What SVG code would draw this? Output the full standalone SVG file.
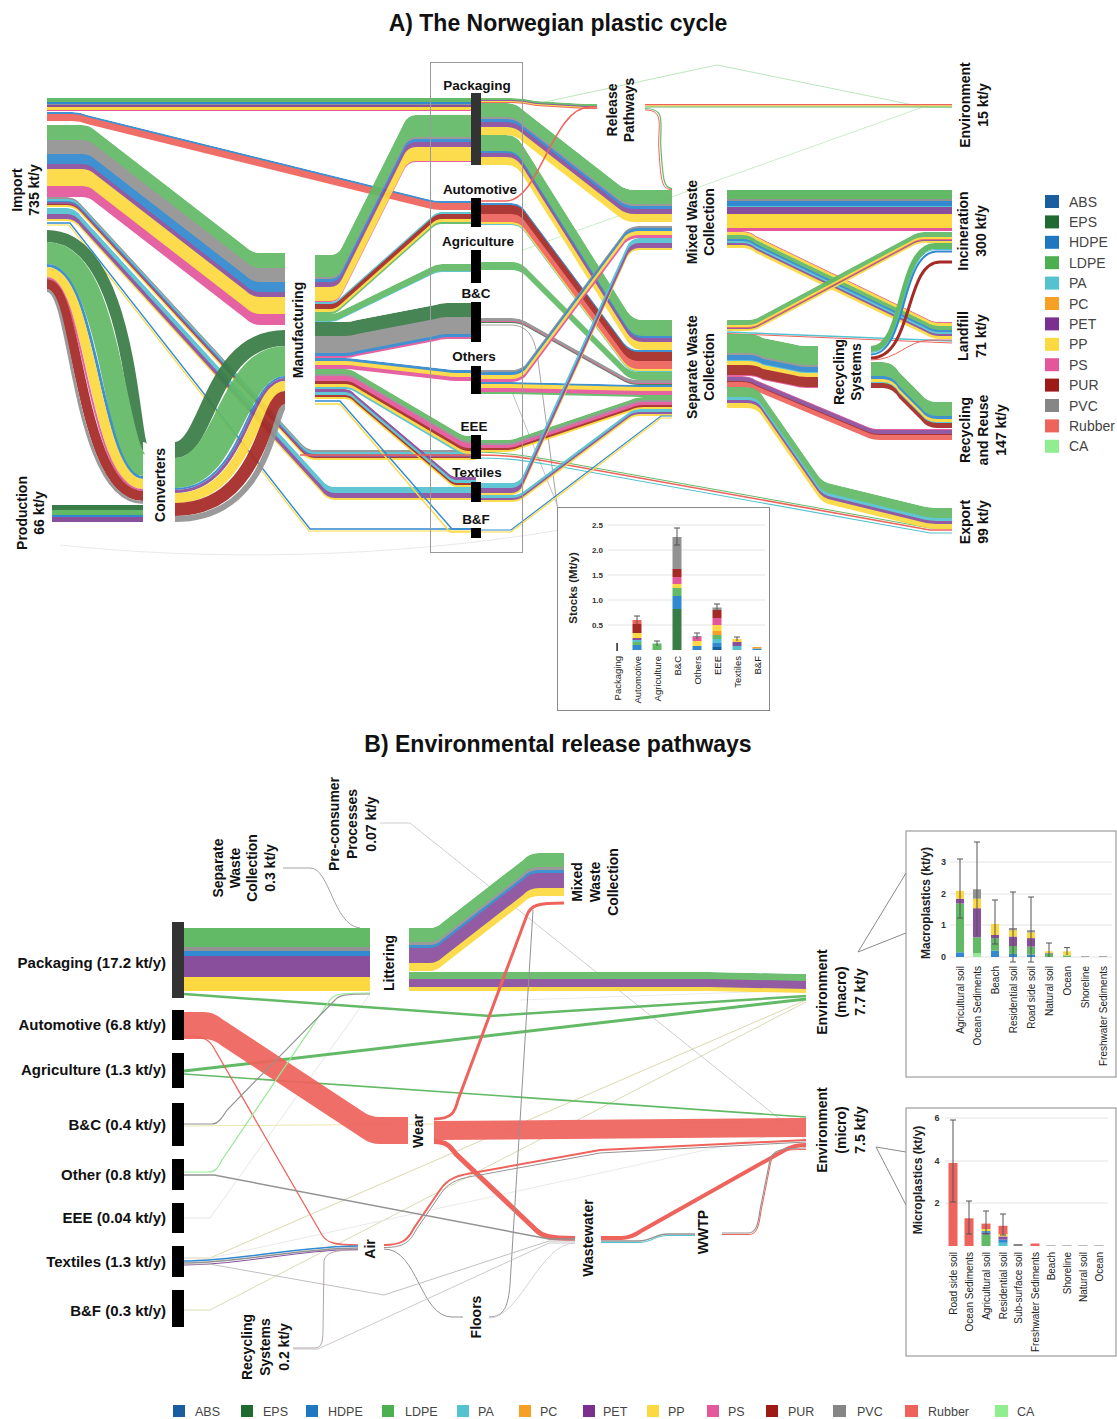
<svg xmlns="http://www.w3.org/2000/svg" width="1117" height="1419" viewBox="0 0 1117 1419">
<defs>
<style>
text{font-family:"Liberation Sans",Arial,"DejaVu Sans",sans-serif}
.h{font-weight:bold;fill:#111;font-size:23px;text-anchor:middle}
.n{font-size:14px;font-weight:bold;fill:#111;text-anchor:middle}
.sec{font-size:13.5px;font-weight:bold;fill:#111;text-anchor:middle}
.lb{font-size:15px;font-weight:bold;fill:#111;text-anchor:end}
.lg{font-size:14px;fill:#444}
.lg2{font-size:12.5px;fill:#444}
.ax{font-size:8px;fill:#333;font-weight:bold}
.ax2{font-size:9px;fill:#333;font-weight:bold}
.cat{font-size:9.5px;fill:#222;text-anchor:end}
.cat2{font-size:10px;fill:#222;text-anchor:end}
.yl{font-weight:bold;fill:#222;text-anchor:middle}
.f{fill:var(--c)}
.s{fill:none;stroke:var(--c)}
.bd{opacity:.93}
.grid{stroke:#e3e3e3;stroke-width:1;fill:none}
.err{stroke:#555;stroke-width:1;fill:none}
.fa{fill:none;stroke-width:.9}
.box{fill:#fff;stroke:#8a8a8a;stroke-width:1}
.abs{--c:#1b5e9f}.eps{--c:#3a7c47}.hdpe{--c:#3189cf}.ldpe{--c:#62ba66}.pa{--c:#55c2d0}.pc{--c:#f6a126}.pet{--c:#8a4f9c}.pp{--c:#fcd940}.ps{--c:#e4589b}.pur{--c:#a52a26}.pvc{--c:#939393}.rub{--c:#ee635c}.ca{--c:#95ea95}
</style>
<path id="bF2" d="M47,112 h25 q8,0 15,3 l340,84 q7,2 15,2 h34 v9 h-34 q-8,0 -15,-2 l-340,-84 q-7,-3 -15,-3 h-25 z"/>
<path id="bF3" d="M47,125 h35 q8,0 14,6 l150,116 q6,6 14,6 h25 v72 h-25 q-8,0 -14,-6 l-150,-116 q-6,-6 -14,-6 h-35 z"/>
<path id="bF4" d="M47,197 h20 q8,0 14,7 l220,239 q6,7 14,7 h161 v10 h-161 q-8,0 -14,-7 l-220,-239 q-6,-7 -14,-7 h-20 z"/>
<path id="bF5" d="M47,208 h20 q8,0 14,8 l240,263 q6,8 14,8 h141 v13 h-141 q-8,0 -14,-8 l-240,-263 q-6,-8 -14,-8 h-20 z"/>
<path id="bM1" d="M315,255 h15 q8,0 12,-8 l62,-124 q4,-8 12,-8 h60 v47 h-60 q-8,0 -12,8 l-62,124 q-4,8 -12,8 h-15 z"/>
<path id="bM2" d="M315,302 h15 q6,0 11,-5 l90,-80 q5,-5 11,-5 h34 v12 h-34 q-6,0 -11,5 l-90,80 q-5,5 -11,5 h-15 z"/>
<path id="bM3" d="M315,314 h15 q6,0 11,-3 l90,-44 q5,-3 11,-3 h34 v8 h-34 q-6,0 -11,3 l-90,44 q-5,3 -11,3 h-15 z"/>
<path id="bM4" d="M315,322 h30 q6,0 12,-2 l78,-15 q6,-2 12,-2 h29 v36 h-29 q-6,0 -12,2 l-78,15 q-6,2 -12,2 h-30 z"/>
<path id="bM5" d="M315,358 h30 q6,0 12,1 l88,10 q6,1 12,1 h19 v11 h-19 q-6,0 -12,-1 l-88,-10 q-6,-1 -12,-1 h-30 z"/>
<path id="bM6" d="M315,369 h30 q6,0 12,4 l100,59 q6,4 12,4 h7 v20 h-7 q-6,0 -12,-4 l-100,-59 q-6,-4 -12,-4 h-30 z"/>
<path id="bM7" d="M315,389 h30 q6,0 11,6 l90,76 q6,6 11,6 h19 v10 h-19 q-5,0 -11,-6 l-90,-76 q-5,-6 -11,-6 h-30 z"/>
<path id="bRP" d="M476,98 h35 q12,0 25,3 l50,3 h11 v5 h-11 l-50,-3 q-13,-3 -25,-3 h-35 z"/>
<path id="bP1" d="M476,103 h30 q10,0 17,7 l95,74 q7,6 17,6 h37 v32 h-37 q-10,0 -17,-6 l-95,-74 q-7,-7 -17,-7 h-30 z"/>
<path id="bP2" d="M476,135 h30 q10,0 16,9 l105,167 q6,9 16,9 h29 v30 h-29 q-10,0 -16,-9 l-105,-167 q-6,-9 -16,-9 h-30 z"/>
<path id="bA1" d="M476,203 h35 q8,0 13,6 l100,134 q6,7 14,7 h34 v22 h-34 q-8,0 -14,-7 l-100,-134 q-5,-6 -13,-6 h-35 z"/>
<path id="bB1" d="M476,318 h35 q8,0 14,3 l100,56 q6,3 14,3 h33 v5 h-33 q-8,0 -14,-3 l-100,-56 q-6,-3 -14,-3 h-35 z"/>
<path id="bO1" d="M476,370 h35 q8,0 14,-5 l100,-134 q6,-5 14,-5 h33 v12 h-33 q-8,0 -14,5 l-100,134 q-6,5 -14,5 h-35 z"/>
<path id="bO2" d="M476,382 h35 l130,3 h31 v12 h-31 l-130,-3 h-35 z"/>
<path id="bE1" d="M476,440 h30 q8,0 14,-3 l110,-37 q6,-3 14,-3 h28 v12 h-28 q-8,0 -14,3 l-110,37 q-6,3 -14,3 h-30 z"/>
<path id="bT1" d="M476,483 h35 q8,0 12,-8 l104,-229 q4,-8 12,-8 h33 v12 h-33 q-8,0 -12,8 l-104,229 q-4,8 -12,8 h-35 z"/>
<path id="bT2" d="M476,495 h35 q8,0 13,-4 l104,-78 q5,-4 13,-4 h31 v7 h-31 q-8,0 -13,4 l-104,78 q-5,4 -13,4 h-35 z"/>
<path id="bMW2" d="M727,231 h15 q8,0 14,5 l170,82 q6,4 14,4 h12 v17 h-12 q-8,0 -14,-4 l-170,-82 q-6,-5 -14,-5 h-15 z"/>
<path id="bSW1" d="M727,320 h20 q8,0 14,-4 l150,-80 q6,-4 14,-4 h27 v11 h-27 q-8,0 -14,4 l-150,80 q-6,4 -14,4 h-20 z"/>
<path id="bSW3" d="M727,334 h20 q10,0 16,4 l30,6 q6,2 14,2 h11 v42 h-11 q-8,0 -14,-2 l-30,-6 q-6,-4 -16,-4 h-20 z"/>
<path id="bSW4" d="M727,376 h15 q8,0 14,4 l110,46 q6,3 14,3 h72 v11 h-72 q-8,0 -14,-3 l-110,-46 q-6,-4 -14,-4 h-15 z"/>
<path id="bSW5" d="M727,387 h20 q10,0 15,8 l55,79 q5,8 15,10 l90,22 q8,2 20,2 h10 v21 h-10 q-12,0 -20,-2 l-90,-22 q-10,-2 -15,-10 l-55,-79 q-5,-8 -15,-8 h-20 z"/>
<path id="bRS2" d="M871,362 h12 q10,0 16,10 l22,22 q6,8 16,8 h15 v26 h-15 q-10,0 -16,-8 l-22,-22 q-6,-10 -16,-10 h-12 z"/>
<path id="bL1" d="M409,928 h20 q8,0 14,-6 l80,-62 q6,-7 16,-7 h25 v43 h-25 q-10,0 -16,7 l-80,62 q-6,6 -14,6 h-20 z"/>
<path id="bL2" d="M409,972 h300 l97,2 v19 l-97,-2 h-300 z"/>
<clipPath id="cF2"><use href="#bF2"/></clipPath>
<clipPath id="cF3"><use href="#bF3"/></clipPath>
<clipPath id="cF4"><use href="#bF4"/></clipPath>
<clipPath id="cF5"><use href="#bF5"/></clipPath>
<clipPath id="cM1"><use href="#bM1"/></clipPath>
<clipPath id="cM2"><use href="#bM2"/></clipPath>
<clipPath id="cM3"><use href="#bM3"/></clipPath>
<clipPath id="cM4"><use href="#bM4"/></clipPath>
<clipPath id="cM5"><use href="#bM5"/></clipPath>
<clipPath id="cM6"><use href="#bM6"/></clipPath>
<clipPath id="cM7"><use href="#bM7"/></clipPath>
<clipPath id="cRP"><use href="#bRP"/></clipPath>
<clipPath id="cP1"><use href="#bP1"/></clipPath>
<clipPath id="cP2"><use href="#bP2"/></clipPath>
<clipPath id="cA1"><use href="#bA1"/></clipPath>
<clipPath id="cB1"><use href="#bB1"/></clipPath>
<clipPath id="cO1"><use href="#bO1"/></clipPath>
<clipPath id="cO2"><use href="#bO2"/></clipPath>
<clipPath id="cE1"><use href="#bE1"/></clipPath>
<clipPath id="cT1"><use href="#bT1"/></clipPath>
<clipPath id="cT2"><use href="#bT2"/></clipPath>
<clipPath id="cMW2"><use href="#bMW2"/></clipPath>
<clipPath id="cSW1"><use href="#bSW1"/></clipPath>
<clipPath id="cSW3"><use href="#bSW3"/></clipPath>
<clipPath id="cSW4"><use href="#bSW4"/></clipPath>
<clipPath id="cSW5"><use href="#bSW5"/></clipPath>
<clipPath id="cRS2"><use href="#bRS2"/></clipPath>
<clipPath id="cL1"><use href="#bL1"/></clipPath>
<clipPath id="cL2"><use href="#bL2"/></clipPath>
</defs>
<rect width="1117" height="1419" fill="#fff"/>

<text class="h" x="558" y="31">A) The Norwegian plastic cycle</text>

<g id="connectors-a">
<path class="fa" stroke="#b5e3b5" d="M540,103 L717,65 L923,107 H952"/>
<path class="fa" stroke="#c4eac4" d="M523,250 L923,107"/>
<path class="fa" stroke="#9a9a9a" d="M480,325 h30 C530,325 535,340 538,360 L558,512"/>
<path class="fa" stroke="#bbb" d="M512,392 L560,512"/>
<path class="fa" stroke="#e6e6e6" d="M60,545 C200,560 380,560 560,530"/>
<rect class="f ldpe" x="47" y="98" width="429" height="4"/>
<rect class="f hdpe" x="47" y="102" width="429" height="2"/>
<rect class="f pvc" x="47" y="104" width="429" height="1"/>
<rect class="f pet" x="47" y="105" width="429" height="2"/>
<rect class="f pp" x="47" y="107" width="429" height="3"/>
<rect class="f ps" x="47" y="110" width="429" height="1"/>
<g class="bd" clip-path="url(#cF2)"><use href="#bF2" class="f hdpe"/><use href="#bF2" class="f rub" y="2"/></g>
<g class="bd" clip-path="url(#cF3)"><use href="#bF3" class="f ldpe"/><use href="#bF3" class="f pvc" y="15"/><use href="#bF3" class="f hdpe" y="29"/><use href="#bF3" class="f pet" y="39"/><use href="#bF3" class="f pp" y="44"/><use href="#bF3" class="f ps" y="61"/></g>
<g class="bd" clip-path="url(#cF4)"><use href="#bF4" class="f pvc"/><use href="#bF4" class="f pa" y="2"/><use href="#bF4" class="f hdpe" y="4"/><use href="#bF4" class="f pet" y="5"/><use href="#bF4" class="f pur" y="7"/><use href="#bF4" class="f pp" y="8"/></g>
<path class="s hdpe" stroke-width="1.4" d="M47,223 H70 L310,529 H476"/>
<path class="s pp" stroke-width="1.2" d="M47,225 H69 L309,531 H476"/>
<g class="bd" clip-path="url(#cF5)"><use href="#bF5" class="f pa"/><use href="#bF5" class="f pet" y="6"/><use href="#bF5" class="f pp" y="11"/></g>
<g class="bd">
<path class="s eps" stroke-width="12" d="M47,236 C133,236 133,448 143,448"/>
<path class="s ldpe" stroke-width="22" d="M47,253 C114,253 114,465 143,465"/>
<path class="s hdpe" stroke-width="3" d="M47,265.5 C100,265.5 100,477.5 143,477.5"/>
<path class="s pp" stroke-width="10" d="M47,272 C93,272 93,484 143,484"/>
<path class="s ps" stroke-width="2" d="M47,278 C86,278 86,490 143,490"/>
<path class="s pur" stroke-width="10" d="M47,284 C79,284 79,496 143,496"/>
<path class="s pvc" stroke-width="3" d="M47,290.5 C72,290.5 72,502.5 143,502.5"/>
</g>
<rect class="f eps" x="52" y="505" width="91" height="5"/>
<rect class="f ldpe" x="52" y="510" width="91" height="5"/>
<rect class="f hdpe" x="52" y="515" width="91" height="2"/>
<rect class="f pet" x="52" y="517" width="91" height="5"/>
<g class="bd">
<path class="s eps" stroke-width="16" d="M175,450 C209,450 209,338 285,338"/>
<path class="s ldpe" stroke-width="30" d="M175,473 C230,473 230,361 285,361"/>
<path class="s hdpe" stroke-width="2" d="M175,489 C245,489 245,377 285,377"/>
<path class="s pet" stroke-width="3" d="M175,491.5 C247,491.5 247,379.5 285,379.5"/>
<path class="s pp" stroke-width="10" d="M175,498 C253,498 253,386 285,386"/>
<path class="s pur" stroke-width="13" d="M175,509.5 C264,509.5 264,397.5 285,397.5"/>
<path class="s pvc" stroke-width="6" d="M175,519 C273,519 273,407 285,407"/>
</g>
<g class="bd" clip-path="url(#cM1)"><use href="#bM1" class="f ldpe"/><use href="#bM1" class="f pvc" y="22"/><use href="#bM1" class="f hdpe" y="24"/><use href="#bM1" class="f pet" y="27"/><use href="#bM1" class="f pp" y="32"/><use href="#bM1" class="f ps" y="46"/></g>
<g class="bd" clip-path="url(#cM2)"><use href="#bM2" class="f pa"/><use href="#bM2" class="f pur" y="2"/><use href="#bM2" class="f pp" y="7"/><use href="#bM2" class="f ldpe" y="10"/></g>
<g class="bd" clip-path="url(#cM3)"><use href="#bM3" class="f ldpe"/><use href="#bM3" class="f pa" y="7"/></g>
<g class="bd" clip-path="url(#cM4)"><use href="#bM4" class="f eps"/><use href="#bM4" class="f pvc" y="14"/><use href="#bM4" class="f hdpe" y="31"/><use href="#bM4" class="f ps" y="34"/></g>
<g class="bd" clip-path="url(#cM5)"><use href="#bM5" class="f hdpe"/><use href="#bM5" class="f pp" y="3"/><use href="#bM5" class="f ps" y="7"/></g>
<g class="bd" clip-path="url(#cM6)"><use href="#bM6" class="f ldpe"/><use href="#bM6" class="f pvc" y="5"/><use href="#bM6" class="f ps" y="7"/><use href="#bM6" class="f pur" y="12"/><use href="#bM6" class="f pp" y="15"/><use href="#bM6" class="f pa" y="18"/></g>
<g class="bd" clip-path="url(#cM7)"><use href="#bM7" class="f pet"/><use href="#bM7" class="f pa" y="3"/><use href="#bM7" class="f pur" y="6"/><use href="#bM7" class="f pp" y="8"/></g>
<path class="s hdpe" stroke-width="1.4" d="M315,401 h25 L452,529 H476"/>
<path class="s pp" stroke-width="1.4" d="M315,404 h25 L450,532 H476"/>
<path class="s rub" stroke-width="1.6" d="M300,455 H470 C510,455 520,457 545,461 L930,530 H952"/>
<path class="s pa" stroke-width="1.2" d="M470,458 C510,458 520,460 545,464 L930,533 H952"/>
<path class="s ldpe" stroke-width="1" d="M470,452 C500,452 520,455 545,459 L930,528 H952"/>
<g class="bd" clip-path="url(#cRP)"><use href="#bRP" class="f ldpe"/><use href="#bRP" class="f pet" y="2"/><use href="#bRP" class="f pp" y="3"/><use href="#bRP" class="f rub" y="4"/></g>
<g class="bd" clip-path="url(#cP1)"><use href="#bP1" class="f ldpe"/><use href="#bP1" class="f pvc" y="14"/><use href="#bP1" class="f hdpe" y="16"/><use href="#bP1" class="f pet" y="19"/><use href="#bP1" class="f pp" y="24"/></g>
<g class="bd" clip-path="url(#cP2)"><use href="#bP2" class="f ldpe"/><use href="#bP2" class="f hdpe" y="16"/><use href="#bP2" class="f pet" y="18"/><use href="#bP2" class="f pp" y="22"/></g>
<g class="bd" clip-path="url(#cA1)"><use href="#bA1" class="f hdpe"/><use href="#bA1" class="f pur" y="2"/><use href="#bA1" class="f rub" y="11"/><use href="#bA1" class="f pp" y="19"/><use href="#bA1" class="f pa" y="21"/></g>
<path class="s rub" stroke-width="1.5" d="M476,201 h30 C540,201 552,107 590,107 h7"/>
<path class="f ldpe bd" d="M476,262 h35 q8,0 14,5 l100,100 q6,5 14,5 h33 v8 h-33 q-8,0 -14,-5 l-100,-100 q-6,-5 -14,-5 h-35 z"/>
<g class="bd" clip-path="url(#cB1)"><use href="#bB1" class="f pvc"/><use href="#bB1" class="f ps" y="3"/><use href="#bB1" class="f eps" y="4"/></g>
<g class="bd" clip-path="url(#cO2)"><use href="#bO2" class="f hdpe"/><use href="#bO2" class="f pp" y="2"/><use href="#bO2" class="f ps" y="6"/><use href="#bO2" class="f ldpe" y="10"/></g>
<g class="bd" clip-path="url(#cE1)"><use href="#bE1" class="f ldpe"/><use href="#bE1" class="f pvc" y="3"/><use href="#bE1" class="f ps" y="5"/><use href="#bE1" class="f pur" y="8"/><use href="#bE1" class="f pp" y="10"/></g>
<g class="bd" clip-path="url(#cT2)"><use href="#bT2" class="f pa"/><use href="#bT2" class="f pet" y="3"/><use href="#bT2" class="f pp" y="5"/></g>
<path class="s hdpe" stroke-width="1.2" d="M476,530 h35 L661,416 h11"/>
<path class="s pp" stroke-width="1.2" d="M476,532 h35 L661,418 h11"/>
<g class="bd" clip-path="url(#cO1)"><use href="#bO1" class="f pvc"/><use href="#bO1" class="f hdpe" y="2"/><use href="#bO1" class="f pp" y="5"/><use href="#bO1" class="f ps" y="9"/></g>
<g class="bd" clip-path="url(#cT1)"><use href="#bT1" class="f pa"/><use href="#bT1" class="f pet" y="5"/><use href="#bT1" class="f pp" y="10"/></g>
<rect class="f rub" x="645" y="104" width="307" height="1.5"/>
<rect class="f pp" x="645" y="105.5" width="307" height="1"/>
<rect class="f ldpe" x="645" y="106.5" width="307" height="1"/>
<path class="s ldpe" stroke-width="1.2" d="M645,108.5 C668,108.5 659,125 661,150 C663,180 664,188.5 672,188.5"/>
<path class="s rub" stroke-width="1" d="M645,110 C666,110 657,127 659,152 C661,182 662,189.5 672,189.5"/>
<rect class="f ldpe" x="727" y="190" width="225" height="9"/>
<rect class="f pvc" x="727" y="199" width="225" height="2"/>
<rect class="f hdpe" x="727" y="201" width="225" height="5"/>
<rect class="f pa" x="727" y="206" width="225" height="1"/>
<rect class="f pet" x="727" y="207" width="225" height="7"/>
<rect class="f pp" x="727" y="214" width="225" height="14"/>
<rect class="f ps" x="727" y="228" width="225" height="3"/>
<g class="bd" clip-path="url(#cMW2)"><use href="#bMW2" class="f ps"/><use href="#bMW2" class="f pp" y="1"/><use href="#bMW2" class="f ldpe" y="4"/><use href="#bMW2" class="f hdpe" y="8"/><use href="#bMW2" class="f pa" y="10"/><use href="#bMW2" class="f pet" y="12"/><use href="#bMW2" class="f pp" y="14"/></g>
<g class="bd" clip-path="url(#cSW1)"><use href="#bSW1" class="f ldpe"/><use href="#bSW1" class="f pp" y="5"/><use href="#bSW1" class="f rub" y="7"/><use href="#bSW1" class="f pet" y="8"/><use href="#bSW1" class="f pp" y="9"/></g>
<path class="s pa" stroke-width="1.5" d="M727,332 L952,341"/>
<path class="s rub" stroke-width="1" d="M727,333.5 L952,343"/>
<g class="bd" clip-path="url(#cSW3)"><use href="#bSW3" class="f ldpe"/><use href="#bSW3" class="f pvc" y="19"/><use href="#bSW3" class="f hdpe" y="21"/><use href="#bSW3" class="f pa" y="26"/><use href="#bSW3" class="f pp" y="27"/><use href="#bSW3" class="f pur" y="31"/><use href="#bSW3" class="f ps" y="41"/></g>
<g class="bd" clip-path="url(#cSW4)"><use href="#bSW4" class="f ps"/><use href="#bSW4" class="f pet" y="1"/><use href="#bSW4" class="f pur" y="5"/><use href="#bSW4" class="f rub" y="6"/></g>
<g class="bd" clip-path="url(#cSW5)"><use href="#bSW5" class="f ldpe"/><use href="#bSW5" class="f pa" y="10"/><use href="#bSW5" class="f pet" y="13"/><use href="#bSW5" class="f pp" y="16"/></g>
<path class="s ldpe" stroke-width="6" d="M871,349 C906,349 898,246 935,246 H952"/>
<path class="s pa" stroke-width="1" d="M871,352.5 C907,352.5 899,249.5 936,249.5 H952"/>
<path class="s hdpe" stroke-width="2" d="M871,354.5 C908,354.5 900,251.5 937,251.5 H952"/>
<path class="s pur" stroke-width="3" d="M871,358 C914,358 904,262 940,262 H952"/>
<path class="s rub" stroke-width="1" d="M871,360 C898,360 906,341 930,340 H952"/>
<g class="bd" clip-path="url(#cRS2)"><use href="#bRS2" class="f ldpe"/><use href="#bRS2" class="f hdpe" y="14"/><use href="#bRS2" class="f pp" y="17"/><use href="#bRS2" class="f pa" y="20"/><use href="#bRS2" class="f pur" y="21"/></g>
</g>

<rect x="430.5" y="62.5" width="92" height="490" fill="none" stroke="#9a9a9a"/>

<g id="node-import"><text class="n" transform="translate(22,190) rotate(-90)"><tspan x="0" y="0">Import</tspan><tspan x="0" y="17">735 kt/y</tspan></text></g>
<g id="node-production"><text class="n" transform="translate(27,513) rotate(-90)"><tspan x="0" y="0">Production</tspan><tspan x="0" y="17">66 kt/y</tspan></text></g>
<g id="node-converters"><text class="n" transform="translate(165,485) rotate(-90)">Converters</text></g>
<g id="node-manufacturing"><text class="n" transform="translate(303,330) rotate(-90)">Manufacturing</text></g>
<g id="node-packaging"><rect x="471" y="93" width="10" height="72" fill="#333"/><text class="sec" x="477" y="90">Packaging</text></g>
<g id="node-automotive"><rect x="471" y="198" width="10" height="29" fill="#000"/><text class="sec" x="480" y="194">Automotive</text></g>
<g id="node-agriculture"><rect x="471" y="250" width="10" height="33" fill="#000"/><text class="sec" x="478" y="246">Agriculture</text></g>
<g id="node-bc"><rect x="471" y="302" width="10" height="40" fill="#000"/><text class="sec" x="476" y="298">B&amp;C</text></g>
<g id="node-others"><rect x="471" y="366" width="10" height="28" fill="#000"/><text class="sec" x="474" y="361">Others</text></g>
<g id="node-eee"><rect x="471" y="435" width="10" height="24" fill="#000"/><text class="sec" x="474" y="431">EEE</text></g>
<g id="node-textiles"><rect x="471" y="482" width="10" height="20" fill="#000"/><text class="sec" x="477" y="477">Textiles</text></g>
<g id="node-bf"><rect x="471" y="528" width="10" height="10" fill="#000"/><text class="sec" x="476" y="524">B&amp;F</text></g>
<g id="node-release"><text class="n" transform="translate(617,110) rotate(-90)"><tspan x="0" y="0">Release</tspan><tspan x="0" y="17">Pathways</tspan></text></g>
<g id="node-mixed"><text class="n" transform="translate(697,222) rotate(-90)"><tspan x="0" y="0">Mixed Waste</tspan><tspan x="0" y="17">Collection</tspan></text></g>
<g id="node-separate"><text class="n" transform="translate(697,367) rotate(-90)"><tspan x="0" y="0">Separate Waste</tspan><tspan x="0" y="17">Collection</tspan></text></g>
<g id="node-recsys"><text class="n" transform="translate(844,372) rotate(-90)"><tspan x="0" y="0">Recycling</tspan><tspan x="0" y="17">Systems</tspan></text></g>
<g id="node-environment"><text class="n" transform="translate(970,105) rotate(-90)"><tspan x="0" y="0">Environment</tspan><tspan x="0" y="18">15 kt/y</tspan></text></g>
<g id="node-incineration"><text class="n" transform="translate(968,231) rotate(-90)"><tspan x="0" y="0">Incineration</tspan><tspan x="0" y="18">300 kt/y</tspan></text></g>
<g id="node-landfill"><text class="n" transform="translate(968,336) rotate(-90)"><tspan x="0" y="0">Landfill</tspan><tspan x="0" y="18">71 kt/y</tspan></text></g>
<g id="node-recreuse"><text class="n" transform="translate(970,430) rotate(-90)"><tspan x="0" y="0">Recycling</tspan><tspan x="0" y="18">and Reuse</tspan><tspan x="0" y="36">147 kt/y</tspan></text></g>
<g id="node-export"><text class="n" transform="translate(970,522) rotate(-90)"><tspan x="0" y="0">Export</tspan><tspan x="0" y="18">99 kt/y</tspan></text></g>

<g id="legend-right">
<rect class="f abs" x="1045" y="195" width="14" height="13"/><text class="lg" x="1069" y="206.5">ABS</text>
<rect class="f eps" x="1045" y="215.4" width="14" height="13" style="--c:#1e6a31"/><text class="lg" x="1069" y="226.9">EPS</text>
<rect class="f hdpe" x="1045" y="235.8" width="14" height="13" style="--c:#1f78bf"/><text class="lg" x="1069" y="247.3">HDPE</text>
<rect class="f ldpe" x="1045" y="256.2" width="14" height="13" style="--c:#4caf50"/><text class="lg" x="1069" y="267.7">LDPE</text>
<rect class="f pa" x="1045" y="276.6" width="14" height="13"/><text class="lg" x="1069" y="288.1">PA</text>
<rect class="f pc" x="1045" y="297" width="14" height="13"/><text class="lg" x="1069" y="308.5">PC</text>
<rect class="f pet" x="1045" y="317.4" width="14" height="13" style="--c:#7b2f8e"/><text class="lg" x="1069" y="328.9">PET</text>
<rect class="f pp" x="1045" y="337.8" width="14" height="13"/><text class="lg" x="1069" y="349.3">PP</text>
<rect class="f ps" x="1045" y="358.2" width="14" height="13"/><text class="lg" x="1069" y="369.7">PS</text>
<rect class="f pur" x="1045" y="378.6" width="14" height="13" style="--c:#9e1a16"/><text class="lg" x="1069" y="390.1">PUR</text>
<rect class="f pvc" x="1045" y="399" width="14" height="13" style="--c:#868686"/><text class="lg" x="1069" y="410.5">PVC</text>
<rect class="f rub" x="1045" y="419.4" width="14" height="13"/><text class="lg" x="1069" y="430.9">Rubber</text>
<rect class="f ca" x="1045" y="439.8" width="14" height="13" style="--c:#90ee90"/><text class="lg" x="1069" y="451.3">CA</text>
</g>

<g id="chart-stocks">
<rect class="box" x="557.5" y="507.5" width="212" height="203"/>
<path class="grid" d="M608,525H765M608,550H765M608,575H765M608,600H765M608,625H765"/>
<text class="ax" x="603" y="528" text-anchor="end">2.5</text>
<text class="ax" x="603" y="553" text-anchor="end">2.0</text>
<text class="ax" x="603" y="578" text-anchor="end">1.5</text>
<text class="ax" x="603" y="603" text-anchor="end">1.0</text>
<text class="ax" x="603" y="628" text-anchor="end">0.5</text>
<text class="yl" font-size="11.5" transform="translate(577,588) rotate(-90)">Stocks (Mt/y)</text>
<rect x="616.3" y="643" width="1.6" height="8" fill="#333"/>
<rect class="f hdpe" x="632.5" y="645" width="9" height="5"/><rect class="f ldpe" x="632.5" y="642" width="9" height="3"/><rect class="f pa" x="632.5" y="640" width="9" height="2"/><rect class="f pet" x="632.5" y="638" width="9" height="2"/><rect class="f pp" x="632.5" y="633" width="9" height="5"/><rect class="f pur" x="632.5" y="624" width="9" height="9"/><rect class="f rub" x="632.5" y="620" width="9" height="4"/>
<path class="err" d="M637,616V624M634,616H640"/>
<rect class="f ldpe" x="652.5" y="643.5" width="9" height="6.5"/><path class="err" d="M657,641V646M654,641H660"/>
<rect class="f eps" x="672.5" y="609" width="9" height="41"/><rect class="f hdpe" x="672.5" y="596" width="9" height="13"/><rect class="f ldpe" x="672.5" y="588" width="9" height="8"/><rect class="f pp" x="672.5" y="584" width="9" height="4"/><rect class="f ps" x="672.5" y="577" width="9" height="7"/><rect class="f pur" x="672.5" y="569" width="9" height="8"/><rect class="f pvc" x="672.5" y="537" width="9" height="32"/>
<path class="err" d="M677,528V545M674,528H680M674,545H680"/>
<rect class="f hdpe" x="692.5" y="646" width="9" height="4"/><rect class="f pp" x="692.5" y="641" width="9" height="5"/><rect class="f ps" x="692.5" y="637" width="9" height="4"/><rect class="f pvc" x="692.5" y="636" width="9" height="1"/>
<path class="err" d="M697,633V639M694,633H700"/>
<rect class="f abs" x="712.5" y="647" width="9" height="3"/><rect class="f hdpe" x="712.5" y="643" width="9" height="4"/><rect class="f pa" x="712.5" y="639" width="9" height="4"/><rect class="f ldpe" x="712.5" y="635" width="9" height="4"/><rect class="f pc" x="712.5" y="631" width="9" height="4"/><rect class="f pp" x="712.5" y="625" width="9" height="6"/><rect class="f ps" x="712.5" y="618" width="9" height="7"/><rect class="f pur" x="712.5" y="610" width="9" height="8"/><rect class="f pvc" x="712.5" y="607.5" width="9" height="2.5"/>
<path class="err" d="M717,604V611M714,604H720"/>
<rect class="f pa" x="732.5" y="646" width="9" height="4"/><rect class="f pet" x="732.5" y="642" width="9" height="4"/><rect class="f pp" x="732.5" y="639" width="9" height="3"/>
<path class="err" d="M737,637V641M734,637H740"/>
<rect class="f hdpe" x="752.5" y="648.5" width="9" height="1.5"/><rect class="f pc" x="752.5" y="647" width="9" height="1.5"/>
<text class="cat" transform="translate(620.5,656) rotate(-90)">Packaging</text>
<text class="cat" transform="translate(640.5,656) rotate(-90)">Automotive</text>
<text class="cat" transform="translate(660.5,656) rotate(-90)">Agriculture</text>
<text class="cat" transform="translate(680.5,656) rotate(-90)">B&amp;C</text>
<text class="cat" transform="translate(700.5,656) rotate(-90)">Others</text>
<text class="cat" transform="translate(720.5,656) rotate(-90)">EEE</text>
<text class="cat" transform="translate(740.5,656) rotate(-90)">Textiles</text>
<text class="cat" transform="translate(760.5,656) rotate(-90)">B&amp;F</text>
</g>

<text class="h" x="558" y="752">B) Environmental release pathways</text>

<g id="connectors-b">
<path class="fa" stroke="#d9d4a6" d="M184,1258 H210 L806,1000"/>
<path class="fa" stroke="#d6d6b0" d="M184,1310 H210 L806,1002"/>
<path class="fa" stroke="#e3e3e3" d="M184,1218 H210 L370,994"/>
<path class="fa" stroke="#e8e3a6" d="M184,1126 L434,1124 L806,1122"/>
<path class="fa" stroke="#e6e6e6" d="M184,1264 L806,1128"/>
<path class="fa" stroke="#e9e9e9" d="M520,1000 L806,990"/>
<path class="fa" stroke="#c8c8c8" d="M380,823 H410 L806,1140"/>
<path class="fa" stroke="#999" d="M283,868 H310 C330,868 333,925 360,928"/>
<rect class="f ldpe" x="184" y="928" width="186" height="19"/>
<rect class="f pvc" x="184" y="947" width="186" height="4"/>
<rect class="f hdpe" x="184" y="951" width="186" height="5"/>
<rect class="f pet" x="184" y="956" width="186" height="21"/>
<rect class="f pp" x="184" y="977" width="186" height="14"/>
<g class="bd" clip-path="url(#cL1)"><use href="#bL1" class="f ldpe"/><use href="#bL1" class="f pvc" y="14"/><use href="#bL1" class="f hdpe" y="17"/><use href="#bL1" class="f pet" y="20"/><use href="#bL1" class="f pp" y="35"/></g>
<g class="bd" clip-path="url(#cL2)"><use href="#bL2" class="f ldpe"/><use href="#bL2" class="f pet" y="7"/><use href="#bL2" class="f pp" y="15"/></g>
<path class="s ldpe" stroke-width="2.5" d="M184,994 L490,1016 L806,996"/>
<path class="s ldpe" stroke-width="3" d="M184,1071 L806,999"/>
<path class="s ldpe" stroke-width="1.6" d="M184,1074 L806,1117"/>
<path class="f rub bd" d="M184,1012 h20 q10,0 18,7 l140,92 q8,6 18,6 h28 v27 h-28 q-10,0 -18,-6 l-140,-92 q-8,-7 -18,-7 h-20 z"/>
<path class="f rub bd" d="M434,1121 L806,1118 v19 L434,1140 z"/>
<path class="s rub" stroke-width="3" d="M434,1119 C452,1119 455,1112 458,1100 L527,915 C531,905 538,903 564,903"/>
<path class="s rub" stroke-width="5" d="M434,1141.5 C446,1141.5 450,1146 456,1154 L536,1230 C542,1236 548,1238.5 575,1238.5"/>
<path class="s rub" stroke-width="1.3" d="M184,1036 C205,1036 210,1040 215,1050 L322,1235 C327,1243 335,1245 358,1245"/>
<path class="s hdpe" stroke-width="1.5" d="M184,1261 C240,1261 300,1246 358,1246"/>
<path class="s pvc" stroke-width="1.5" d="M184,1263 C240,1263 300,1248 358,1248"/>
<path class="s pet" stroke-width="1" d="M184,1265 C240,1265 300,1249.5 358,1249.5"/>
<path class="s rub" stroke-width="2" d="M384,1245 C402,1245 408,1240 414,1228 L440,1190 C448,1178 458,1175 478,1172 L600,1150 L806,1140"/>
<path class="s pvc" stroke-width="1" d="M384,1247.5 C404,1247.5 410,1242 416,1230 L442,1192 C450,1181 460,1178 480,1175 L600,1153 L806,1142"/>
<path class="s pvc" stroke-width="1" d="M384,1249 C418,1249 420,1317 452,1317 H463"/>
<path class="s pvc" stroke-width="1" d="M489,1317 C505,1317 508,1305 510,1285 L533,910"/>
<path class="fa" stroke="#cfcfcf" d="M489,1318 C520,1318 540,1243 575,1243"/>
<path class="s pvc" stroke-width="1.5" d="M184,1175 H214 L549,1239 H575"/>
<path class="s ca" stroke-width="1.2" d="M184,1172 H209 C215,1172 218,1168 222,1160 L330,1000 C334,994 340,993 370,993"/>
<path class="s pvc" stroke-width="1.2" d="M184,1124 H212 C218,1124 222,1118 227,1110 L335,1000 C339,995 345,994 370,994"/>
<path class="fa" stroke="#b9b9b9" d="M184,1264 H209 L384,1295 L549,1241 H575"/>
<path class="s pvc" stroke-width="1" style="--c:#b7a0a8" d="M293,1348 H315 C322,1348 323,1340 323,1330 L324,1262 C325,1253 332,1250 358,1250"/>
<path class="fa" stroke="#c4c4c4" d="M293,1349 H318 L549,1243 H575"/>
<path class="s rub" stroke-width="4" d="M601,1238 H622 C630,1238 635,1235 641,1231 L785,1150 C792,1146 797,1145 806,1145"/>
<path class="s pvc" stroke-width="1.5" d="M601,1241 H638 C652,1241 655,1234 668,1234 H695"/>
<path class="s pa" stroke-width="1" d="M601,1242.5 H638 C652,1242.5 655,1235.5 668,1235.5 H695"/>
<path class="s pvc" stroke-width="1.2" d="M722,1233 H748 C756,1233 758,1225 760,1210 L770,1160 C773,1150 780,1148 806,1148"/>
<path class="s rub" stroke-width="1" d="M722,1234.5 H749 C757,1234.5 759,1226 761,1211 L771,1161 C774,1151 781,1149.5 806,1149.5"/>
</g>

<g id="node-b-packaging"><rect x="172" y="922" width="12" height="76" fill="#333"/><text class="lb" x="166" y="968">Packaging (17.2 kt/y)</text></g>
<g id="node-b-automotive"><rect x="172" y="1010" width="12" height="30" fill="#000"/><text class="lb" x="166" y="1030">Automotive (6.8 kt/y)</text></g>
<g id="node-b-agriculture"><rect x="172" y="1053" width="12" height="35" fill="#000"/><text class="lb" x="166" y="1075">Agriculture (1.3 kt/y)</text></g>
<g id="node-b-bc"><rect x="172" y="1103" width="12" height="43" fill="#000"/><text class="lb" x="166" y="1130">B&amp;C (0.4 kt/y)</text></g>
<g id="node-b-other"><rect x="172" y="1159" width="12" height="31" fill="#000"/><text class="lb" x="166" y="1180">Other (0.8 kt/y)</text></g>
<g id="node-b-eee"><rect x="172" y="1203" width="12" height="30" fill="#000"/><text class="lb" x="166" y="1223">EEE (0.04 kt/y)</text></g>
<g id="node-b-textiles"><rect x="172" y="1246" width="12" height="31" fill="#000"/><text class="lb" x="166" y="1267">Textiles (1.3 kt/y)</text></g>
<g id="node-b-bf"><rect x="172" y="1290" width="12" height="37" fill="#000"/><text class="lb" x="166" y="1316">B&amp;F (0.3 kt/y)</text></g>
<g id="node-b-separate"><text class="n" transform="translate(223,868) rotate(-90)"><tspan x="0" y="0">Separate</tspan><tspan x="0" y="17">Waste</tspan><tspan x="0" y="34">Collection</tspan><tspan x="0" y="52">0.3 kt/y</tspan></text></g>
<g id="node-b-preconsumer"><text class="n" transform="translate(339,824) rotate(-90)"><tspan x="0" y="0">Pre-consumer</tspan><tspan x="0" y="18">Processes</tspan><tspan x="0" y="37">0.07 kt/y</tspan></text></g>
<g id="node-b-littering"><text class="n" transform="translate(394,963) rotate(-90)">Littering</text></g>
<g id="node-b-mixed"><text class="n" transform="translate(582,882) rotate(-90)"><tspan x="0" y="0">Mixed</tspan><tspan x="0" y="18">Waste</tspan><tspan x="0" y="36">Collection</tspan></text></g>
<g id="node-b-wear"><text class="n" transform="translate(423,1131) rotate(-90)">Wear</text></g>
<g id="node-b-air"><text class="n" transform="translate(375,1249) rotate(-90)">Air</text></g>
<g id="node-b-wastewater"><text class="n" transform="translate(593,1238) rotate(-90)">Wastewater</text></g>
<g id="node-b-wwtp"><text class="n" transform="translate(708,1232) rotate(-90)">WWTP</text></g>
<g id="node-b-floors"><text class="n" transform="translate(481,1317) rotate(-90)">Floors</text></g>
<g id="node-b-recsys"><text class="n" transform="translate(252,1347) rotate(-90)"><tspan x="0" y="0">Recycling</tspan><tspan x="0" y="18">Systems</tspan><tspan x="0" y="37">0.2 kt/y</tspan></text></g>
<g id="node-b-envmacro"><text class="n" transform="translate(827,992) rotate(-90)"><tspan x="0" y="0">Environment</tspan><tspan x="0" y="19">(macro)</tspan><tspan x="0" y="38">7.7 kt/y</tspan></text></g>
<g id="node-b-envmicro"><text class="n" transform="translate(827,1130) rotate(-90)"><tspan x="0" y="0">Environment</tspan><tspan x="0" y="19">(micro)</tspan><tspan x="0" y="38">7.5 kt/y</tspan></text></g>

<g id="chart-macro">
<path d="M906,873 L858,952 L906,933" fill="none" stroke="#8a8a8a"/>
<rect class="box" x="906" y="831" width="210" height="246"/>
<path class="grid" d="M950,862H1112M950,894H1112M950,925H1112M950,957H1112"/>
<text class="ax2" x="946" y="865" text-anchor="end">3</text>
<text class="ax2" x="946" y="897" text-anchor="end">2</text>
<text class="ax2" x="946" y="928" text-anchor="end">1</text>
<text class="ax2" x="946" y="960" text-anchor="end">0</text>
<text class="yl" font-size="12" transform="translate(930,903) rotate(-90)">Macroplastics (kt/y)</text>
<rect class="f hdpe" x="956" y="952.3" width="8" height="4.7"/><rect class="f ldpe" x="956" y="903.5" width="8" height="48.8"/><rect class="f pet" x="956" y="898.7" width="8" height="4.8"/><rect class="f pp" x="956" y="890.9" width="8" height="7.8"/>
<path class="err" d="M960,859V918M957,859H963M957,918H963"/>
<rect class="f ca" x="973" y="953.2" width="8" height="3.8"/><rect class="f ldpe" x="973" y="937.2" width="8" height="16"/><rect class="f pet" x="973" y="908.2" width="8" height="29"/><rect class="f pp" x="973" y="898.7" width="8" height="9.5"/><rect class="f pvc" x="973" y="889.3" width="8" height="9.4"/>
<path class="err" d="M977,842V936M974,842H980"/>
<rect class="f hdpe" x="991" y="950.7" width="8" height="6.3"/><rect class="f ldpe" x="991" y="938.1" width="8" height="12.6"/><rect class="f pet" x="991" y="935" width="8" height="3.1"/><rect class="f pp" x="991" y="923.9" width="8" height="11.1"/>
<path class="err" d="M995,900V944M992,900H998M992,944H998"/>
<rect class="f hdpe" x="1009" y="953.9" width="8" height="3.1"/><rect class="f ldpe" x="1009" y="946" width="8" height="7.9"/><rect class="f pet" x="1009" y="936.5" width="8" height="9.5"/><rect class="f pp" x="1009" y="930.2" width="8" height="6.3"/><rect class="f pvc" x="1009" y="928" width="8" height="2.2"/>
<path class="err" d="M1013,892V962M1010,892H1016M1010,962H1016"/>
<rect class="f hdpe" x="1027" y="954.5" width="8" height="2.5"/><rect class="f ldpe" x="1027" y="946.6" width="8" height="7.9"/><rect class="f pet" x="1027" y="938.1" width="8" height="8.5"/><rect class="f pp" x="1027" y="932.4" width="8" height="5.7"/><rect class="f pvc" x="1027" y="930.2" width="8" height="2.2"/>
<path class="err" d="M1031,897V962M1028,897H1034M1028,962H1034"/>
<rect class="f ldpe" x="1045" y="953.9" width="8" height="3.1"/><rect class="f pvc" x="1045" y="952.9" width="8" height="1"/><rect class="f pp" x="1045" y="951.3" width="8" height="1.6"/>
<path class="err" d="M1049,943V957M1046,943H1052"/>
<rect class="f ldpe" x="1063" y="955.4" width="8" height="1.6"/><rect class="f pp" x="1063" y="951.3" width="8" height="4.1"/>
<path class="err" d="M1067,947.6V955M1064,947.6H1070"/>
<rect x="1081" y="956" width="8" height="1" fill="#aaa"/><rect x="1099" y="956" width="8" height="1" fill="#aaa"/>
<text class="cat2" transform="translate(963.5,966) rotate(-90)">Agricultural soil</text>
<text class="cat2" transform="translate(980.5,966) rotate(-90)">Ocean Sediments</text>
<text class="cat2" transform="translate(998.5,966) rotate(-90)">Beach</text>
<text class="cat2" transform="translate(1016.5,966) rotate(-90)">Residential soil</text>
<text class="cat2" transform="translate(1034.5,966) rotate(-90)">Road side soil</text>
<text class="cat2" transform="translate(1052.5,966) rotate(-90)">Natural soil</text>
<text class="cat2" transform="translate(1070.5,966) rotate(-90)">Ocean</text>
<text class="cat2" transform="translate(1088.5,966) rotate(-90)">Shoreline</text>
<text class="cat2" transform="translate(1106.5,966) rotate(-90)">Freshwater Sediments</text>
</g>

<g id="chart-micro">
<path d="M906,1152 L876,1147 L906,1205" fill="none" stroke="#8a8a8a"/>
<rect class="box" x="906" y="1108" width="210" height="248"/>
<path class="grid" d="M945,1118H1108M945,1161H1108M945,1203H1108"/>
<text class="ax2" x="937" y="1121" text-anchor="middle">6</text>
<text class="ax2" x="937" y="1164" text-anchor="middle">4</text>
<text class="ax2" x="937" y="1206" text-anchor="middle">2</text>
<text class="yl" font-size="12" transform="translate(922,1180) rotate(-90)">Microplastics (kt/y)</text>
<rect class="f rub" x="948.5" y="1162.9" width="9" height="83.1"/>
<path class="err" d="M953,1120V1202M950,1120H956M950,1202H956"/>
<rect class="f rub" x="964.5" y="1218.3" width="9" height="27.7"/>
<path class="err" d="M969,1201V1234M966,1201H972M966,1234H972"/>
<rect class="f ldpe" x="981.5" y="1234.3" width="9" height="11.7"/><rect class="f pet" x="981.5" y="1232.8" width="9" height="1.5"/><rect class="f hdpe" x="981.5" y="1231.1" width="9" height="1.7"/><rect class="f pp" x="981.5" y="1229" width="9" height="2.1"/><rect class="f rub" x="981.5" y="1223.6" width="9" height="5.4"/>
<path class="err" d="M986,1211V1234M983,1211H989M983,1234H989"/>
<rect class="f pa" x="998.5" y="1242.8" width="9" height="3.2"/><rect class="f hdpe" x="998.5" y="1239.6" width="9" height="3.2"/><rect class="f pet" x="998.5" y="1236.4" width="9" height="3.2"/><rect class="f pp" x="998.5" y="1234.3" width="9" height="2.1"/><rect class="f rub" x="998.5" y="1225.8" width="9" height="8.5"/>
<path class="err" d="M1003,1214V1235M1000,1214H1006M1000,1235H1006"/>
<rect x="1013.5" y="1244" width="9" height="2" fill="#888"/>
<rect class="f rub" x="1030.5" y="1243.5" width="9" height="2.5"/>
<rect x="1046.5" y="1245" width="9" height="1" fill="#bbb"/><rect x="1062.5" y="1245" width="9" height="1" fill="#bbb"/><rect x="1078.5" y="1245" width="9" height="1" fill="#bbb"/><rect x="1094.5" y="1245" width="9" height="1" fill="#bbb"/>
<text class="cat2" transform="translate(956.5,1252) rotate(-90)">Road side soil</text>
<text class="cat2" transform="translate(972.5,1252) rotate(-90)">Ocean Sediments</text>
<text class="cat2" transform="translate(989.5,1252) rotate(-90)">Agricultural soil</text>
<text class="cat2" transform="translate(1006.5,1252) rotate(-90)">Residential soil</text>
<text class="cat2" transform="translate(1021.5,1252) rotate(-90)">Sub-surface soil</text>
<text class="cat2" transform="translate(1038.5,1252) rotate(-90)">Freshwater Sediments</text>
<text class="cat2" transform="translate(1054.5,1252) rotate(-90)">Beach</text>
<text class="cat2" transform="translate(1070.5,1252) rotate(-90)">Shoreline</text>
<text class="cat2" transform="translate(1086.5,1252) rotate(-90)">Natural soil</text>
<text class="cat2" transform="translate(1102.5,1252) rotate(-90)">Ocean</text>
</g>

<g id="legend-bottom">
<rect class="f abs" x="173" y="1405" width="12" height="12"/><text class="lg2" x="195" y="1415.5">ABS</text>
<rect class="f eps" x="241" y="1405" width="12" height="12" style="--c:#1e6a31"/><text class="lg2" x="263" y="1415.5">EPS</text>
<rect class="f hdpe" x="306" y="1405" width="12" height="12" style="--c:#1f78bf"/><text class="lg2" x="328" y="1415.5">HDPE</text>
<rect class="f ldpe" x="382" y="1405" width="12" height="12" style="--c:#4caf50"/><text class="lg2" x="405" y="1415.5">LDPE</text>
<rect class="f pa" x="457" y="1405" width="12" height="12"/><text class="lg2" x="478" y="1415.5">PA</text>
<rect class="f pc" x="519" y="1405" width="12" height="12"/><text class="lg2" x="540" y="1415.5">PC</text>
<rect class="f pet" x="583" y="1405" width="12" height="12" style="--c:#7b2f8e"/><text class="lg2" x="603" y="1415.5">PET</text>
<rect class="f pp" x="647" y="1405" width="12" height="12"/><text class="lg2" x="668" y="1415.5">PP</text>
<rect class="f ps" x="707" y="1405" width="12" height="12"/><text class="lg2" x="728" y="1415.5">PS</text>
<rect class="f pur" x="766" y="1405" width="12" height="12" style="--c:#9e1a16"/><text class="lg2" x="788" y="1415.5">PUR</text>
<rect class="f pvc" x="833" y="1405" width="13" height="12" style="--c:#868686"/><text class="lg2" x="857" y="1415.5">PVC</text>
<rect class="f rub" x="905" y="1405" width="13" height="12"/><text class="lg2" x="928" y="1415.5">Rubber</text>
<rect class="f ca" x="995" y="1405" width="13" height="12" style="--c:#90ee90"/><text class="lg2" x="1017" y="1415.5">CA</text>
</g>
</svg>
